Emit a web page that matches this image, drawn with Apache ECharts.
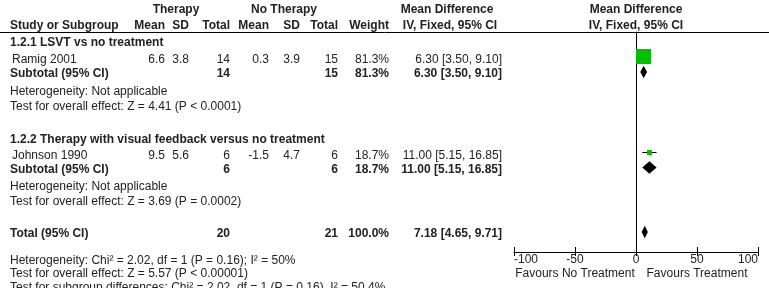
<!DOCTYPE html>
<html><head><meta charset="utf-8">
<script src="https://cdn.jsdelivr.net/npm/echarts@6/dist/echarts.min.js"></script>
<style>html,body{margin:0;padding:0;background:#fff}#c{width:769px;height:288px}</style>
</head><body><div id="c"></div>
<script>
// ---------------- DATA ----------------
const studyNames   = ['Ramig 2001', 'Johnson 1990'];
const txMean       = [6.6, 9.5];
const txSD         = [3.8, 5.6];
const txTotal      = [14, 6];
const ctMean       = [0.3, -1.5];
const ctSD         = [3.9, 4.7];
const ctTotal      = [15, 6];
const studyWeight  = [81.3, 18.7];
const studyMD      = [6.30, 11.00];
const studyLo      = [3.50, 5.15];
const studyHi      = [9.10, 16.85];

const groupTitles  = ['1.2.1 LSVT vs no treatment', '1.2.2 Therapy with visual feedback versus no treatment'];
const subTxTotal   = [14, 6];
const subCtTotal   = [15, 6];
const subWeight    = [81.3, 18.7];
const subMD        = [6.30, 11.00];
const subLo        = [3.50, 5.15];
const subHi        = [9.10, 16.85];
const subHet       = ['Heterogeneity: Not applicable', 'Heterogeneity: Not applicable'];
const subTest      = ['Test for overall effect: Z = 4.41 (P < 0.0001)', 'Test for overall effect: Z = 3.69 (P = 0.0002)'];

const totalLabel   = 'Total (95% CI)';
const totalTx      = [20];
const totalCt      = [21];
const totalWeight  = [100.0];
const totalMD      = [7.18];
const totalLo      = [4.65];
const totalHi      = [9.71];
const totalNotes   = ['Heterogeneity: Chi\u00b2 = 2.02, df = 1 (P = 0.16); I\u00b2 = 50%',
                      'Test for overall effect: Z = 5.57 (P < 0.00001)',
                      'Test for subgroup differences: Chi\u00b2 = 2.02, df = 1 (P = 0.16), I\u00b2 = 50.4%'];

const xTickValues  = [-100, -50, 0, 50, 100];
const favoursLabels = ['Favours No Treatment', 'Favours Treatment'];
const favoursAt    = [-50, 50];
const headerGroups = ['Therapy', 'No Therapy', 'Mean Difference', 'Mean Difference'];
const headerCols   = ['Study or Subgroup', 'Mean', 'SD', 'Total', 'Mean', 'SD', 'Total', 'Weight', 'IV, Fixed, 95% CI', 'IV, Fixed, 95% CI'];

// ---------------- LAYOUT ----------------
const FONT = '"Liberation Sans", Arial, sans-serif';
const FS = 12;
const INK = '#222';
const TEXT_DY = 1.5;
const ROW = { hdr1: 8.5, hdr2: 24.5, rule: 32, group: [41.5, 138], study: [58.5, 154], sub: [72.5, 168],
              het: [90, 185], test: [105, 200], total: 232.5, notes: [259, 272.5, 286], axis: 252,
              markShift: -2.5, favours: 272.5 };
const COL = { name: 10, study: 12, txMean: 165, txSD: 189, txTotal: 230, ctMean: 269, ctSD: 300, ctTotal: 338,
              weight: 389, ci: 502, ciHead1: 447, ciHead2: 450, therapy: 176, noTherapy: 284,
              plotL: 514, plotR: 758 };
const W = 769;

function txt(s, x, y, align, bold) {
  return { type: 'text', x: x, y: y + TEXT_DY, silent: true,
    style: { text: s, font: (bold ? 'bold ' : '') + FS + 'px ' + FONT, fill: INK,
             align: align || 'left', verticalAlign: 'middle' } };
}
const f1 = v => v.toFixed(1);
const f2 = v => v.toFixed(2);
const ciStr = (m, l, h) => f2(m) + ' [' + f2(l) + ', ' + f2(h) + ']';

const chart = echarts.init(document.getElementById('c'), null, { renderer: 'canvas' });

const els = [];
// header
els.push(txt(headerGroups[0], COL.therapy, ROW.hdr1, 'center', true));
els.push(txt(headerGroups[1], COL.noTherapy, ROW.hdr1, 'center', true));
els.push(txt(headerGroups[2], COL.ciHead1, ROW.hdr1, 'center', true));
els.push(txt(headerCols[0], COL.name, ROW.hdr2, 'left', true));
els.push(txt(headerCols[1], COL.txMean, ROW.hdr2, 'right', true));
els.push(txt(headerCols[2], COL.txSD, ROW.hdr2, 'right', true));
els.push(txt(headerCols[3], COL.txTotal, ROW.hdr2, 'right', true));
els.push(txt(headerCols[4], COL.ctMean, ROW.hdr2, 'right', true));
els.push(txt(headerCols[5], COL.ctSD, ROW.hdr2, 'right', true));
els.push(txt(headerCols[6], COL.ctTotal, ROW.hdr2, 'right', true));
els.push(txt(headerCols[7], COL.weight, ROW.hdr2, 'right', true));
els.push(txt(headerCols[8], COL.ciHead2, ROW.hdr2, 'center', true));
els.push({ type: 'line', silent: true, shape: { x1: 0, y1: ROW.rule + 0.5, x2: W, y2: ROW.rule + 0.5 },
           style: { stroke: '#000', lineWidth: 1 } });

for (let g = 0; g < groupTitles.length; g++) {
  const i = g; // one study per subgroup
  els.push(txt(groupTitles[g], COL.name, ROW.group[g], 'left', true));
  const y = ROW.study[g];
  els.push(txt(studyNames[i], COL.study, y, 'left', false));
  els.push(txt(f1(txMean[i]), COL.txMean, y, 'right'));
  els.push(txt(f1(txSD[i]), COL.txSD, y, 'right'));
  els.push(txt(String(txTotal[i]), COL.txTotal, y, 'right'));
  els.push(txt(f1(ctMean[i]), COL.ctMean, y, 'right'));
  els.push(txt(f1(ctSD[i]), COL.ctSD, y, 'right'));
  els.push(txt(String(ctTotal[i]), COL.ctTotal, y, 'right'));
  els.push(txt(f1(studyWeight[i]) + '%', COL.weight, y, 'right'));
  els.push(txt(ciStr(studyMD[i], studyLo[i], studyHi[i]), COL.ci, y, 'right'));
  const ys = ROW.sub[g];
  els.push(txt('Subtotal (95% CI)', COL.name, ys, 'left', true));
  els.push(txt(String(subTxTotal[g]), COL.txTotal, ys, 'right', true));
  els.push(txt(String(subCtTotal[g]), COL.ctTotal, ys, 'right', true));
  els.push(txt(f1(subWeight[g]) + '%', COL.weight, ys, 'right', true));
  els.push(txt(ciStr(subMD[g], subLo[g], subHi[g]), COL.ci, ys, 'right', true));
  els.push(txt(subHet[g], COL.name, ROW.het[g], 'left'));
  els.push(txt(subTest[g], COL.name, ROW.test[g], 'left'));
}
els.push(txt(totalLabel, COL.name, ROW.total, 'left', true));
els.push(txt(String(totalTx[0]), COL.txTotal, ROW.total, 'right', true));
els.push(txt(String(totalCt[0]), COL.ctTotal, ROW.total, 'right', true));
els.push(txt(f1(totalWeight[0]) + '%', COL.weight, ROW.total, 'right', true));
els.push(txt(ciStr(totalMD[0], totalLo[0], totalHi[0]), COL.ci, ROW.total, 'right', true));
totalNotes.forEach((s, k) => els.push(txt(s, COL.name, ROW.notes[k], 'left')));

// forest data
const studyData = studyNames.map((n, i) => [studyMD[i], studyLo[i], studyHi[i], ROW.study[i] + ROW.markShift, studyWeight[i]]);
const diamondData = subMD.map((m, g) => [m, subLo[g], subHi[g], ROW.sub[g] - 0.5])
  .concat([[totalMD[0], totalLo[0], totalHi[0], ROW.total - 0.5]]);
const maxW = Math.max.apply(null, studyWeight);
const sqSize = w => 15 * Math.pow(w / maxW, 0.75);

const axisBase = {
  type: 'value', min: -100, max: 100, interval: 50, gridIndex: 0, position: 'bottom',
  splitLine: { show: false }
};

chart.setOption({
  animation: false,
  backgroundColor: '#fff',
  grid: { left: COL.plotL, width: COL.plotR - COL.plotL, top: ROW.rule, height: ROW.axis - ROW.rule, containLabel: false },
  xAxis: [
    Object.assign({}, axisBase, {
      axisLine: { show: true, onZero: false, lineStyle: { color: '#000', width: 1 } },
      axisTick: { show: true, length: 4, inside: false, lineStyle: { color: '#000' } },
      axisLabel: { show: true, margin: 2, color: INK, fontSize: FS, fontFamily: FONT,
                   alignMinLabel: 'left', alignMaxLabel: 'right',
                   customValues: xTickValues },
    }),
    Object.assign({}, axisBase, {
      axisLine: { show: false, onZero: false },
      axisTick: { show: true, length: 5, inside: true, lineStyle: { color: '#000' } },
      axisLabel: { show: false }
    })
  ],
  yAxis: {
    type: 'value', min: ROW.rule, max: ROW.axis, inverse: true,
    axisLine: { show: true, onZero: true, lineStyle: { color: '#000', width: 1 } },
    axisTick: { show: false }, axisLabel: { show: false }, splitLine: { show: false }
  },
  series: [
    {
      type: 'custom', xAxisIndex: 0, yAxisIndex: 0, data: studyData,
      encode: { x: [0, 1, 2], y: 3 }, clip: false,
      renderItem: function (params, api) {
        const y = api.value(3);
        const pc = api.coord([api.value(0), y]);
        const pl = api.coord([api.value(1), y]);
        const ph = api.coord([api.value(2), y]);
        const s = sqSize(api.value(4));
        const yy = Math.round(pc[1]) + 0.5;
        return { type: 'group', children: [
          { type: 'line', shape: { x1: pl[0], y1: yy, x2: ph[0], y2: yy }, style: { stroke: '#000', lineWidth: 1 } },
          { type: 'rect', shape: { x: Math.round(pc[0] - s / 2), y: Math.round(yy - s / 2), width: Math.round(s), height: Math.round(s) }, style: { fill: '#00c000' } }
        ] };
      }
    },
    {
      type: 'custom', xAxisIndex: 0, yAxisIndex: 0, data: diamondData,
      encode: { x: [0, 1, 2], y: 3 }, clip: false,
      renderItem: function (params, api) {
        const y = api.value(3);
        const pc = api.coord([api.value(0), y]);
        const pl = api.coord([api.value(1), y]);
        const ph = api.coord([api.value(2), y]);
        const h = 6.2;
        return { type: 'polygon', shape: { points: [[pl[0], pc[1]], [pc[0], pc[1] - h], [ph[0], pc[1]], [pc[0], pc[1] + h]] },
                 style: { fill: '#000' } };
      }
    }
  ],
  graphic: els
});

const zeroX = chart.convertToPixel({ xAxisIndex: 0 }, 0);
favoursLabels.forEach((s, k) => els.push(txt(s, chart.convertToPixel({ xAxisIndex: 0 }, favoursAt[k]), ROW.favours, 'center')));
els.push(txt(headerGroups[3], zeroX, ROW.hdr1, 'center', true));
els.push(txt(headerCols[9], zeroX, ROW.hdr2, 'center', true));
chart.setOption({ graphic: els });
</script>
</body></html>
